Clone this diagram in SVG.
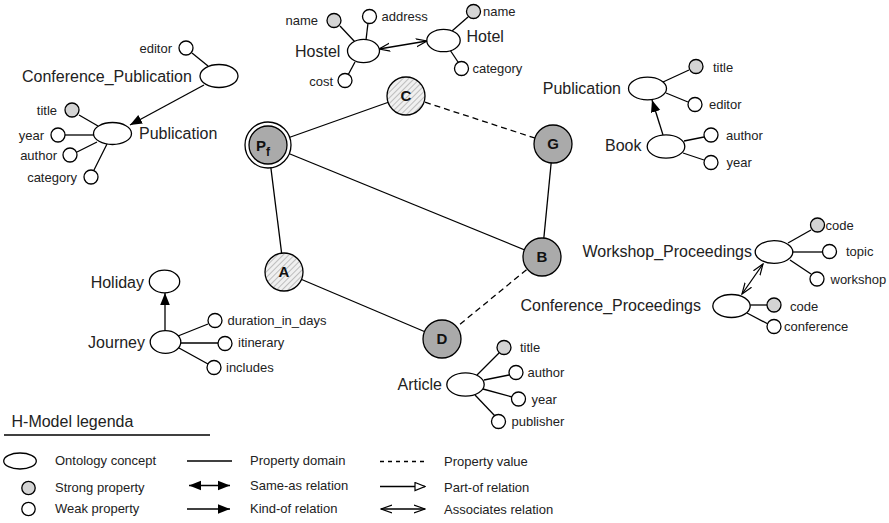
<svg xmlns="http://www.w3.org/2000/svg" width="889" height="523" viewBox="0 0 889 523">
<defs>
<style>
.c{fill:#fff;stroke:#000;stroke-width:1.3}
.s{fill:#d4d4d4;stroke:#000;stroke-width:1.3}
.w{fill:#fff;stroke:#000;stroke-width:1.3}
.n{fill:#aaa;stroke:#000;stroke-width:1.3}
.h{fill:url(#hatch);stroke:#000;stroke-width:1.3}
.l{stroke:#000;stroke-width:1.3;fill:none}
.d{stroke:#000;stroke-width:1.3;fill:none;stroke-dasharray:6 4}
.t{font-family:"Liberation Sans",Arial,sans-serif;font-size:16px;fill:#222}
.p{font-family:"Liberation Sans",Arial,sans-serif;font-size:13px;fill:#222}
.b{font-family:"Liberation Sans",Arial,sans-serif;font-size:15px;font-weight:bold;fill:#111}
</style>
<pattern id="hatch" patternUnits="userSpaceOnUse" width="4" height="4" patternTransform="rotate(45)">
<rect width="4" height="4" fill="#f0f0f0"/>
<line x1="0" y1="0" x2="0" y2="4" stroke="#b0b0b0" stroke-width="1.6"/>
</pattern>
<marker id="kind" viewBox="0 0 10 10" refX="10" refY="5" markerWidth="12" markerHeight="12" markerUnits="userSpaceOnUse" orient="auto-start-reverse">
<path d="M0,1 L10,5 L0,9 z" fill="#000"/>
</marker>
<marker id="assoc" viewBox="0 0 12 10" refX="11" refY="5" markerWidth="12" markerHeight="10" markerUnits="userSpaceOnUse" orient="auto-start-reverse">
<path d="M0,1 L11,5 L0,9" fill="none" stroke="#000" stroke-width="1.2"/>
</marker>
<marker id="part" viewBox="0 0 12 10" refX="11" refY="5" markerWidth="12" markerHeight="10" markerUnits="userSpaceOnUse" orient="auto">
<path d="M1,1 L11,5 L1,9 z" fill="#fff" stroke="#000" stroke-width="1.2"/>
</marker>
</defs>
<rect width="889" height="523" fill="#fff"/>

<g id="connectors">
<line class="l" x1="268" y1="145" x2="406" y2="96"/>
<line class="d" x1="406" y1="96" x2="553" y2="144"/>
<line class="l" x1="268" y1="145" x2="542" y2="257"/>
<line class="l" x1="553" y1="144" x2="542" y2="257"/>
<line class="l" x1="268" y1="145" x2="284" y2="272"/>
<line class="l" x1="284" y1="272" x2="442" y2="339"/>
<line class="d" x1="542" y1="257" x2="442" y2="339"/>
<line class="l" x1="192" y1="53" x2="208" y2="66"/>
<line class="l" x1="204" y1="85" x2="130" y2="125" marker-end="url(#kind)"/>
<line class="l" x1="79" y1="115" x2="98" y2="126"/>
<line class="l" x1="65" y1="135" x2="94" y2="135"/>
<line class="l" x1="77" y1="152" x2="97" y2="142"/>
<line class="l" x1="94" y1="170" x2="107" y2="144"/>
<line class="l" x1="340" y1="26" x2="355" y2="42"/>
<line class="l" x1="368" y1="23" x2="366" y2="40"/>
<line class="l" x1="348" y1="75" x2="355" y2="62"/>
<line class="l" x1="379" y1="49" x2="427" y2="41" marker-start="url(#assoc)" marker-end="url(#assoc)"/>
<line class="l" x1="468" y1="17" x2="452" y2="31"/>
<line class="l" x1="458" y1="62" x2="450" y2="50"/>
<line class="l" x1="663" y1="82" x2="689" y2="70"/>
<line class="l" x1="666" y1="93" x2="688" y2="102"/>
<line class="l" x1="663" y1="135" x2="652" y2="100" marker-end="url(#kind)"/>
<line class="l" x1="684" y1="141" x2="704" y2="137"/>
<line class="l" x1="683" y1="153" x2="704" y2="160"/>
<line class="l" x1="788" y1="243" x2="811" y2="230"/>
<line class="l" x1="793" y1="252" x2="822" y2="252"/>
<line class="l" x1="790" y1="260" x2="811" y2="274"/>
<line class="l" x1="763" y1="264" x2="742" y2="294" marker-start="url(#assoc)" marker-end="url(#assoc)"/>
<line class="l" x1="750" y1="305" x2="767" y2="305"/>
<line class="l" x1="747" y1="313" x2="768" y2="324"/>
<line class="l" x1="165" y1="331" x2="165" y2="293" marker-end="url(#kind)"/>
<line class="l" x1="178" y1="336" x2="208" y2="324"/>
<line class="l" x1="181" y1="343" x2="218" y2="343"/>
<line class="l" x1="179" y1="348" x2="208" y2="364"/>
<line class="l" x1="477" y1="375" x2="499" y2="353"/>
<line class="l" x1="484" y1="380" x2="509" y2="375"/>
<line class="l" x1="483" y1="389" x2="512" y2="397"/>
<line class="l" x1="475" y1="395" x2="495" y2="416"/>
</g>

<g id="node-Pf"><circle class="w" cx="268" cy="145" r="23"/><circle class="n" cx="268" cy="145" r="19"/><text class="b" x="263" y="151" text-anchor="middle">P<tspan font-size="12" dy="5">f</tspan></text></g>
<g id="node-C"><circle class="h" cx="406" cy="96" r="19"/><text class="b" x="406" y="101" text-anchor="middle">C</text></g>
<g id="node-G"><circle class="n" cx="553" cy="144" r="19"/><text class="b" x="553" y="149" text-anchor="middle">G</text></g>
<g id="node-B"><circle class="n" cx="542" cy="257" r="19"/><text class="b" x="542" y="262" text-anchor="middle">B</text></g>
<g id="node-A"><circle class="h" cx="284" cy="272" r="19"/><text class="b" x="284" y="277" text-anchor="middle">A</text></g>
<g id="node-D"><circle class="n" cx="442" cy="339" r="19"/><text class="b" x="442" y="344" text-anchor="middle">D</text></g>

<g id="node-Conference_Publication"><ellipse class="c" cx="219" cy="76" rx="19" ry="11.5"/><text class="t" x="22" y="82">Conference_Publication</text>
<circle class="w" cx="186" cy="48" r="7"/><text class="p" x="172" y="53" text-anchor="end">editor</text></g>
<g id="node-Publication1"><ellipse class="c" cx="112.5" cy="133.5" rx="19" ry="11"/><text class="t" x="139" y="139">Publication</text>
<circle class="s" cx="72" cy="110" r="7"/><text class="p" x="57" y="115" text-anchor="end">title</text>
<circle class="w" cx="58" cy="135" r="7"/><text class="p" x="44" y="140" text-anchor="end">year</text>
<circle class="w" cx="70" cy="155" r="7"/><text class="p" x="57" y="160" text-anchor="end">author</text>
<circle class="w" cx="91" cy="177" r="7"/><text class="p" x="77" y="182" text-anchor="end">category</text></g>

<g id="node-Hostel"><ellipse class="c" cx="363.5" cy="51" rx="16" ry="11.7"/><text class="t" x="295" y="57">Hostel</text>
<circle class="s" cx="334" cy="20.5" r="7"/><text class="p" x="318" y="25" text-anchor="end">name</text>
<circle class="w" cx="369.5" cy="16.5" r="7"/><text class="p" x="381.5" y="21">address</text>
<circle class="w" cx="345" cy="80.5" r="7"/><text class="p" x="333" y="85.5" text-anchor="end">cost</text></g>
<g id="node-Hotel"><ellipse class="c" cx="443.5" cy="40.5" rx="16.7" ry="11.2"/><text class="t" x="466.5" y="41.5">Hotel</text>
<circle class="s" cx="473.5" cy="11.5" r="7"/><text class="p" x="483" y="16">name</text>
<circle class="w" cx="461.5" cy="68.5" r="7"/><text class="p" x="472.5" y="73">category</text></g>

<g id="node-Publication2"><ellipse class="c" cx="647.5" cy="88.5" rx="19" ry="11.3"/><text class="t" x="621" y="93.5" text-anchor="end">Publication</text>
<circle class="s" cx="696" cy="66.5" r="7"/><text class="p" x="713" y="71.5">title</text>
<circle class="w" cx="695" cy="104.5" r="7"/><text class="p" x="709" y="109">editor</text></g>
<g id="node-Book"><ellipse class="c" cx="666" cy="146.5" rx="18.8" ry="11.7"/><text class="t" x="605" y="151">Book</text>
<circle class="w" cx="711" cy="135" r="7"/><text class="p" x="726" y="139.5">author</text>
<circle class="w" cx="711" cy="162.5" r="7"/><text class="p" x="726.5" y="167">year</text></g>

<g id="node-Workshop_Proceedings"><ellipse class="c" cx="774" cy="252" rx="18.8" ry="11.3"/><text class="t" x="752" y="257" text-anchor="end">Workshop_Proceedings</text>
<circle class="s" cx="817.5" cy="225" r="7"/><text class="p" x="825.5" y="229.5">code</text>
<circle class="w" cx="829.5" cy="251.5" r="7"/><text class="p" x="846" y="256">topic</text>
<circle class="w" cx="817" cy="279" r="7"/><text class="p" x="830.5" y="283.5">workshop</text></g>
<g id="node-Conference_Proceedings"><ellipse class="c" cx="731.5" cy="306" rx="18.7" ry="11.5"/><text class="t" x="701" y="311" text-anchor="end">Conference_Proceedings</text>
<circle class="s" cx="774" cy="305" r="7"/><text class="p" x="790" y="311">code</text>
<circle class="w" cx="774" cy="326.5" r="7"/><text class="p" x="784" y="330.5">conference</text></g>

<g id="node-Holiday"><ellipse class="c" cx="164.5" cy="281.5" rx="15.2" ry="11.3"/><text class="t" x="144" y="287.5" text-anchor="end">Holiday</text></g>
<g id="node-Journey"><ellipse class="c" cx="165.5" cy="342" rx="15.3" ry="11.3"/><text class="t" x="145" y="348" text-anchor="end">Journey</text>
<circle class="w" cx="215" cy="320.5" r="7"/><text class="p" x="227.5" y="325">duration_in_days</text>
<circle class="w" cx="225" cy="343.5" r="7"/><text class="p" x="238" y="347">itinerary</text>
<circle class="w" cx="214" cy="367.5" r="7"/><text class="p" x="226" y="372">includes</text></g>

<g id="node-Article"><ellipse class="c" cx="465.5" cy="384.5" rx="18.7" ry="11.7"/><text class="t" x="442" y="390" text-anchor="end">Article</text>
<circle class="s" cx="504" cy="347.5" r="7"/><text class="p" x="520" y="352">title</text>
<circle class="w" cx="516" cy="372.5" r="7"/><text class="p" x="527.5" y="377">author</text>
<circle class="w" cx="518.5" cy="399" r="7"/><text class="p" x="531.5" y="403.5">year</text>
<circle class="w" cx="498.5" cy="421.5" r="7"/><text class="p" x="511.5" y="426">publisher</text></g>

<g id="legend">
<text class="t" x="11.5" y="426.5">H-Model legenda</text>
<line class="l" x1="4" y1="435" x2="210" y2="435"/>
<ellipse class="c" cx="20" cy="461" rx="16.3" ry="8"/><text class="p" x="55" y="465">Ontology concept</text>
<circle class="s" cx="28.5" cy="488" r="6.7"/><text class="p" x="55" y="491.5">Strong property</text>
<circle class="w" cx="28.5" cy="509" r="6.7"/><text class="p" x="55" y="512.5">Weak property</text>
<line class="l" x1="187" y1="461" x2="232" y2="461"/><text class="p" x="250" y="465">Property domain</text>
<line class="l" x1="189" y1="485.5" x2="230" y2="485.5" marker-start="url(#kind)" marker-end="url(#kind)"/><text class="p" x="250" y="489.5">Same-as relation</text>
<line class="l" x1="187" y1="509" x2="230" y2="509" marker-end="url(#kind)"/><text class="p" x="250" y="512.5">Kind-of relation</text>
<line class="l" x1="380" y1="461.5" x2="426" y2="461.5" stroke-dasharray="4 4"/><text class="p" x="444" y="465.5">Property value</text>
<line class="l" x1="380" y1="486.5" x2="425" y2="486.5" marker-end="url(#part)"/><text class="p" x="444" y="491.5">Part-of relation</text>
<line class="l" x1="381" y1="509" x2="425" y2="509" marker-start="url(#assoc)" marker-end="url(#assoc)"/><text class="p" x="444" y="513.5">Associates relation</text>
</g>
</svg>
